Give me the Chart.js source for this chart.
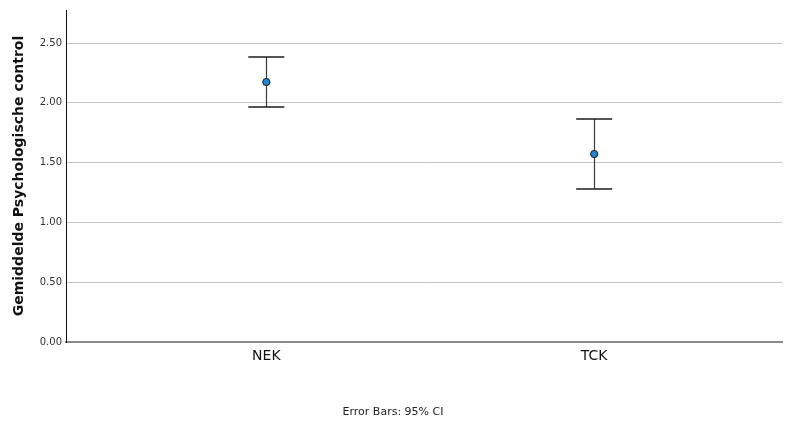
<!DOCTYPE html>
<html>
<head>
<meta charset="utf-8">
<script src="https://cdn.jsdelivr.net/npm/chart.js@4/dist/chart.umd.min.js"></script>
<style>
  html, body { margin: 0; padding: 0; background: #ffffff; }
  #wrap { width: 787px; height: 421px; position: relative; }
</style>
</head>
<body>
<div id="wrap"><canvas id="c" width="787" height="421"></canvas></div>
<script>
// ---- data ----
const categories = ['NEK', 'TCK'];
const means      = [2.174, 1.572];
const ciLower    = [1.965, 1.279];
const ciUpper    = [2.383, 1.864];
const yTicks     = [0, 0.5, 1.0, 1.5, 2.0, 2.5];
const yTitle     = 'Gemiddelde Psychologische control';
const footnote   = 'Error Bars: 95% CI';

const points = categories.map((c, i) => ({ x: i + 1, y: means[i] }));

const errorBars = {
  id: 'errorBars',
  beforeDatasetsDraw(chart) {
    const { ctx, scales: { x, y } } = chart;
    ctx.save();
    categories.forEach((c, i) => {
      const px = x.getPixelForValue(i + 1);
      const yl = y.getPixelForValue(ciLower[i]);
      const yu = y.getPixelForValue(ciUpper[i]);
      const half = 18;
      ctx.strokeStyle = '#3a3a3a';
      ctx.lineWidth = 1.2;
      ctx.beginPath();
      ctx.moveTo(Math.round(px) + 0.5, yu);
      ctx.lineTo(Math.round(px) + 0.5, yl);
      ctx.stroke();
      ctx.strokeStyle = '#1e1e1e';
      ctx.lineWidth = 1.6;
      ctx.beginPath();
      ctx.moveTo(px - half, yu); ctx.lineTo(px + half, yu);
      ctx.moveTo(px - half, yl); ctx.lineTo(px + half, yl);
      ctx.stroke();
    });
    ctx.restore();
  }
};

new Chart(document.getElementById('c'), {
  type: 'scatter',
  data: {
    datasets: [{
      data: points,
      backgroundColor: '#1f86d6',
      borderColor: '#1a1a1a',
      borderWidth: 1,
      pointRadius: 3.6,
      pointHoverRadius: 3.6
    }]
  },
  options: {
    responsive: false,
    animation: false,
    layout: { padding: { top: 10, right: 1, left: 0, bottom: 0 } },
    plugins: {
      legend: { display: false },
      tooltip: { enabled: false },
      title: {
        display: true,
        position: 'bottom',
        text: footnote,
        color: '#222',
        font: { family: 'DejaVu Sans', size: 11, weight: 'normal' },
        padding: { top: 0, bottom: 2 }
      }
    },
    scales: {
      x: {
        type: 'linear',
        min: 0.389,
        max: 2.574,
        afterBuildTicks(s) { s.ticks = categories.map((c, i) => ({ value: i + 1 })); },
        afterFit(s) { s.height = 63.8; },
        grid: { display: false, drawTicks: false },
        border: { display: true, color: '#8a8a8a', width: 2 },
        ticks: {
          padding: 6,
          color: '#111',
          font: { family: 'DejaVu Sans', size: 14 },
          callback: (v) => categories[v - 1] ?? ''
        }
      },
      y: {
        min: 0,
        max: 2.776,
        afterBuildTicks(s) { s.ticks = yTicks.map(v => ({ value: v })); },
        afterFit(s) { s.width = 66; },
        grid: { color: '#c4c4c4', lineWidth: 1, drawTicks: false },
        border: { display: true, color: '#111', width: 1 },
        ticks: {
          padding: 4,
          color: '#333',
          font: { family: 'DejaVu Sans', size: 10 },
          callback: (v) => Number(v).toFixed(2)
        },
        title: {
          display: true,
          text: yTitle,
          color: '#111',
          font: { family: 'DejaVu Sans', size: 14, weight: 'bold' },
          padding: { top: 11, bottom: 4 }
        }
      }
    }
  },
  plugins: [errorBars]
});
</script>
</body>
</html>
